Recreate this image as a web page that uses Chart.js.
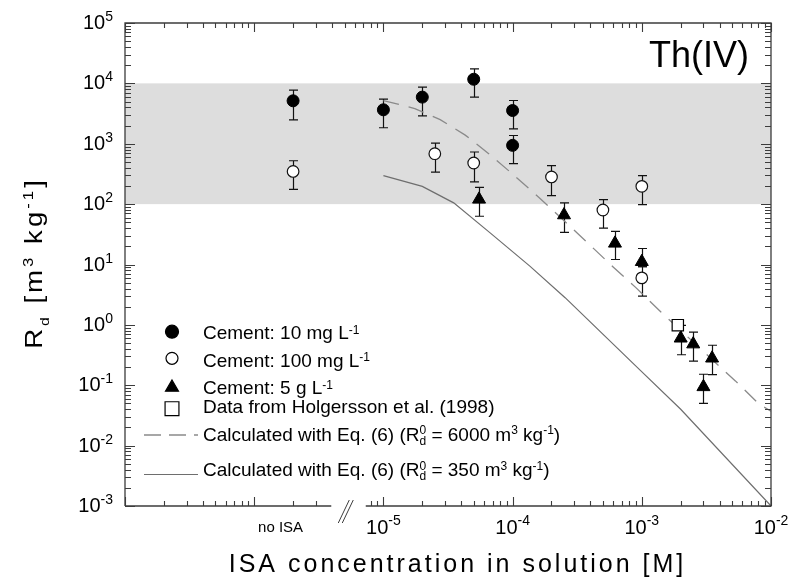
<!DOCTYPE html>
<html>
<head>
<meta charset="utf-8">
<script src="https://cdn.jsdelivr.net/npm/chart.js@4.4.1/dist/chart.umd.min.js"></script>
<style>
  html, body { margin: 0; padding: 0; background: #fff; }
  #wrap { width: 793px; height: 580px; }
</style>
</head>
<body>
<div id="wrap"><canvas id="rdChart" width="793" height="580"></canvas></div>
<script>
// values: ISA in M, Rd in m3/kg
const noIsaX = 2e-6; // where the "no ISA" points sit on the axis

const cement10X = [noIsaX, 1e-5, 2e-5, 5e-5, 1e-4, 1e-4];
const cement10Y = [5140, 3650, 5920, 11700, 3550, 940];
const cement10Lo = [2490, 1840, 2900, 5920, 1770, 467];
const cement10Hi = [7730, 5480, 8650, 17400, 5200, 1370];

const cement100X = [noIsaX, 2.5e-5, 5e-5, 2e-4, 5e-4, 1e-3, 1e-3];
const cement100Y = [348, 684, 480, 282, 80, 197, 6.0];
const cement100Lo = [176, 340, 233, 138, 40, 98, 3.0];
const cement100Hi = [523, 1025, 730, 433, 119, 296, 9.2];

const cement5gX = [5.5e-5, 2.5e-4, 6.2e-4, 1e-3, 2e-3, 2.5e-3, 3e-3, 3.5e-3];
const cement5gY = [120, 66, 22.4, 11.1, 0.60, 0.48, 0.094, 0.28];
const cement5gLo = [63, 34, 12.1, 9.2, 0.32, 0.25, 0.050, 0.15];
const cement5gHi = [190, 105, 35.5, 18.4, 0.98, 0.76, 0.152, 0.46];

const holgerssonX = [1.9e-3];
const holgerssonY = [0.99];

// Eq. (6) curves
const calc6000X = [1e-5, 1.75e-5, 2.75e-5, 4.3e-5, 6.5e-5, 1e-4, 1.6e-4, 2.6e-4, 3.8e-4, 6e-4, 9e-4, 1.4e-3, 3.4e-3, 5.3e-3, 8e-3, 1e-2];
const calc6000Y = [5200, 3830, 2510, 1390, 692, 315, 129, 49, 22.9, 9.1, 4.14, 1.65, 0.282, 0.118, 0.0497, 0.037];
const calc350X = [1e-5, 2e-5, 3.5e-5, 6.7e-5, 1.36e-4, 2.55e-4, 9.7e-4, 2e-3, 1e-2];
const calc350Y = [296, 197, 105, 33.4, 9.4, 2.82, 0.178, 0.040, 0.001];

// shaded range and axes
const bandLow = 100;
const bandHigh = 10000;
const xMin = 1e-7, xMax = 1e-2;
const yMin = 1e-3, yMax = 1e5;
const xLabelExp = [-5, -4, -3, -2];
const yLabelExp = [5, 4, 3, 2, 1, 0, -1, -2, -3];
const breakFrom = 3.95e-6, breakTo = 7.3e-6;
const noIsaLabelX = 1.6e-6;

const FONT = '"Liberation Sans", Arial, sans-serif';
const AXIS = '#3c3c3c';

const pts = (xs, ys) => xs.map((v, i) => ({ x: v, y: ys[i] }));

function logTicks(min, max) {
  const out = [];
  for (let e = Math.round(Math.log10(min)); e < Math.round(Math.log10(max)); e++) {
    for (let m = 1; m < 10; m++) out.push({ v: m * Math.pow(10, e), major: m === 1 });
  }
  out.push({ v: max, major: true });
  return out;
}

// runs: [text, size, dy, stay]
function drawRuns(ctx, runs, x, y, align, spacing) {
  spacing = spacing || 0;
  let w = 0;
  runs.forEach(r => {
    ctx.font = r[1] + 'px ' + FONT;
    if (!r[3]) w += ctx.measureText(r[0]).width + spacing * r[0].length;
  });
  w -= spacing;
  let cx = align === 'right' ? x - w : align === 'center' ? x - w / 2 : x;
  ctx.textAlign = 'left';
  ctx.textBaseline = 'alphabetic';
  runs.forEach(r => {
    ctx.font = r[1] + 'px ' + FONT;
    let px = cx;
    for (const ch of r[0]) {
      ctx.fillText(ch, px, y + (r[2] || 0));
      px += ctx.measureText(ch).width + spacing;
    }
    if (!r[3]) cx = px;
  });
}

function errBars(ctx, x, y, xs, lo, hi) {
  const cap = 4.5;
  xs.forEach((v, i) => {
    const px = Math.round(x.getPixelForValue(v)) + 0.5;
    const p1 = y.getPixelForValue(lo[i]);
    const p2 = y.getPixelForValue(hi[i]);
    ctx.beginPath();
    ctx.moveTo(px, p1); ctx.lineTo(px, p2);
    ctx.moveTo(px - cap, p1); ctx.lineTo(px + cap, p1);
    ctx.moveTo(px - cap, p2); ctx.lineTo(px + cap, p2);
    ctx.stroke();
  });
}

const frame = {
  id: 'frame',
  beforeDatasetsDraw(chart) {
    const { ctx, chartArea: a, scales: { x, y } } = chart;
    ctx.save();
    ctx.fillStyle = '#dddddd';
    const yt = y.getPixelForValue(bandHigh), yb = y.getPixelForValue(bandLow);
    ctx.fillRect(a.left, yt, a.right - a.left, yb - yt);

    ctx.strokeStyle = '#111';
    ctx.lineWidth = 1.2;
    errBars(ctx, x, y, cement10X, cement10Lo, cement10Hi);
    errBars(ctx, x, y, cement100X, cement100Lo, cement100Hi);
    errBars(ctx, x, y, cement5gX, cement5gLo, cement5gHi);
    ctx.restore();
  },
  afterDraw(chart) {
    const { ctx, chartArea: a, scales: { x, y } } = chart;
    ctx.save();
    ctx.strokeStyle = AXIS;
    ctx.lineWidth = 1.3;

    // frame lines, bottom one broken
    const gx1 = x.getPixelForValue(breakFrom), gx2 = x.getPixelForValue(breakTo);
    ctx.beginPath();
    ctx.moveTo(a.left, a.bottom); ctx.lineTo(a.left, a.top);
    ctx.lineTo(a.right, a.top); ctx.lineTo(a.right, a.bottom);
    ctx.lineTo(gx2, a.bottom);
    ctx.moveTo(gx1, a.bottom); ctx.lineTo(a.left, a.bottom);
    ctx.stroke();

    // break marks
    ctx.lineWidth = 1;
    ctx.beginPath();
    ctx.moveTo(gx1 + 7, a.bottom + 17); ctx.lineTo(gx1 + 18, a.bottom - 6);
    ctx.moveTo(gx1 + 11, a.bottom + 17); ctx.lineTo(gx1 + 22, a.bottom - 6);
    ctx.stroke();

    // inward ticks
    ctx.lineWidth = 1.1;
    ctx.beginPath();
    logTicks(xMin, xMax).forEach(t => {
      const px = Math.round(x.getPixelForValue(t.v)) + 0.5;
      const len = t.major ? 9 : 5;
      ctx.moveTo(px, a.top); ctx.lineTo(px, a.top + len);
      if (t.v > breakFrom && t.v < breakTo) return;
      ctx.moveTo(px, a.bottom); ctx.lineTo(px, a.bottom - len);
    });
    logTicks(yMin, yMax).forEach(t => {
      const py = Math.round(y.getPixelForValue(t.v)) + 0.5;
      const len = t.major ? 10 : 6;
      ctx.moveTo(a.left, py); ctx.lineTo(a.left + len, py);
      ctx.moveTo(a.right, py); ctx.lineTo(a.right - len, py);
    });
    ctx.stroke();

    // tick labels
    ctx.fillStyle = '#000';
    yLabelExp.forEach(e => {
      const py = y.getPixelForValue(Math.pow(10, e));
      drawRuns(ctx, [['10', 20, 0], [String(e), 14, -8]], a.left - 12, py + 6, 'right');
    });
    xLabelExp.forEach(e => {
      const px = x.getPixelForValue(Math.pow(10, e));
      drawRuns(ctx, [['10', 20, 0], [String(e), 14, -9]], px, a.bottom + 28, 'center');
    });
    drawRuns(ctx, [['no ISA', 15, 0]], x.getPixelForValue(noIsaLabelX), a.bottom + 26, 'center');

    // axis titles
    drawRuns(ctx, [['ISA concentration in solution [M]', 25, 0]], 456, 572, 'center', 3);
    ctx.save();
    ctx.translate(42, (a.top + a.bottom) / 2);
    ctx.rotate(-Math.PI / 2);
    ctx.scale(1.2, 1);
    drawRuns(ctx, [['R', 23, 0], ['d', 13, 7], [' [m', 23, 0], ['3', 14, -9], [' kg', 23, 0], ['-1', 14, -9], [']', 23, 0]], 0, 0, 'center', 2.5);
    ctx.restore();

    // element label
    drawRuns(ctx, [['Th(IV)', 36, 0]], 749, 67, 'right');

    // legend
    const lx = 172, tx = 203;
    const mark = (style, r, fill, yy) => {
      ctx.fillStyle = fill;
      ctx.strokeStyle = '#000';
      ctx.lineWidth = 1.2;
      Chart.helpers.drawPoint(ctx, { pointStyle: style, radius: r, borderWidth: 1.2, rotation: 0 }, lx, yy);
    };
    mark('circle', 6.5, '#000', 331.7);
    mark('circle', 6, '#fff', 358.3);
    mark('triangle', 7.5, '#000', 387.5);
    mark('rect', 9.8, '#fff', 408.7);

    ctx.strokeStyle = '#8a8a8a';
    ctx.lineWidth = 1.3;
    ctx.setLineDash([17, 8]);
    ctx.beginPath(); ctx.moveTo(144, 435); ctx.lineTo(198, 435); ctx.stroke();
    ctx.setLineDash([]);
    ctx.strokeStyle = '#6e6e6e';
    ctx.lineWidth = 1.2;
    ctx.beginPath(); ctx.moveTo(144, 474.5); ctx.lineTo(198, 474.5); ctx.stroke();

    ctx.fillStyle = '#000';
    drawRuns(ctx, [['Cement: 10 mg L', 19, 0], ['-1', 12, -5.5]], tx, 339.3, 'left');
    drawRuns(ctx, [['Cement: 100 mg L', 19, 0], ['-1', 12, -5.5]], tx, 366.7, 'left');
    drawRuns(ctx, [['Cement: 5 g L', 19, 0], ['-1', 12, -5.5]], tx, 394.3, 'left');
    drawRuns(ctx, [['Data from Holgersson et al. (1998)', 19, 0]], tx, 412.7, 'left');
    const eq = v => [['Calculated with Eq. (6) (R', 19, 0], ['d', 12, 4, true], ['0', 12, -6.5], [' = ' + v + ' m', 19, 0], ['3', 12, -6.5], [' kg', 19, 0], ['-1', 12, -6.5], [')', 19, 0]];
    drawRuns(ctx, eq('6000'), tx, 440.7, 'left');
    drawRuns(ctx, eq('350'), tx, 476, 'left');
    ctx.restore();
  }
};

new Chart(document.getElementById('rdChart'), {
  type: 'scatter',
  data: {
    datasets: [
      {
        label: 'Data from Holgersson et al. (1998)',
        data: pts(holgerssonX, holgerssonY),
        pointStyle: 'rect', pointRadius: 8,
        backgroundColor: '#fff', borderColor: '#000', borderWidth: 1.2
      },
      {
        label: 'Cement: 5 g/L',
        data: pts(cement5gX, cement5gY),
        pointStyle: 'triangle', pointRadius: 7.5,
        backgroundColor: '#000', borderColor: '#000', borderWidth: 1
      },
      {
        label: 'Cement: 100 mg/L',
        data: pts(cement100X, cement100Y),
        pointStyle: 'circle', pointRadius: 5.8,
        backgroundColor: '#fff', borderColor: '#111', borderWidth: 1.2
      },
      {
        label: 'Cement: 10 mg/L',
        data: pts(cement10X, cement10Y),
        pointStyle: 'circle', pointRadius: 6,
        backgroundColor: '#000', borderColor: '#000', borderWidth: 1
      },
      {
        label: 'Eq. (6), Rd0 = 6000',
        data: pts(calc6000X, calc6000Y),
        showLine: true, pointRadius: 0,
        borderColor: '#8a8a8a', borderWidth: 1.3, borderDash: [16, 10]
      },
      {
        label: 'Eq. (6), Rd0 = 350',
        data: pts(calc350X, calc350Y),
        showLine: true, pointRadius: 0,
        borderColor: '#6e6e6e', borderWidth: 1.2
      }
    ]
  },
  options: {
    responsive: false,
    animation: false,
    devicePixelRatio: 1,
    layout: { padding: { left: 125, right: 22, top: 23, bottom: 74 } },
    plugins: { legend: { display: false }, tooltip: { enabled: false } },
    scales: {
      x: { type: 'logarithmic', min: xMin, max: xMax, display: false },
      y: { type: 'logarithmic', min: yMin, max: yMax, display: false }
    }
  },
  plugins: [frame]
});
</script>
</body>
</html>
